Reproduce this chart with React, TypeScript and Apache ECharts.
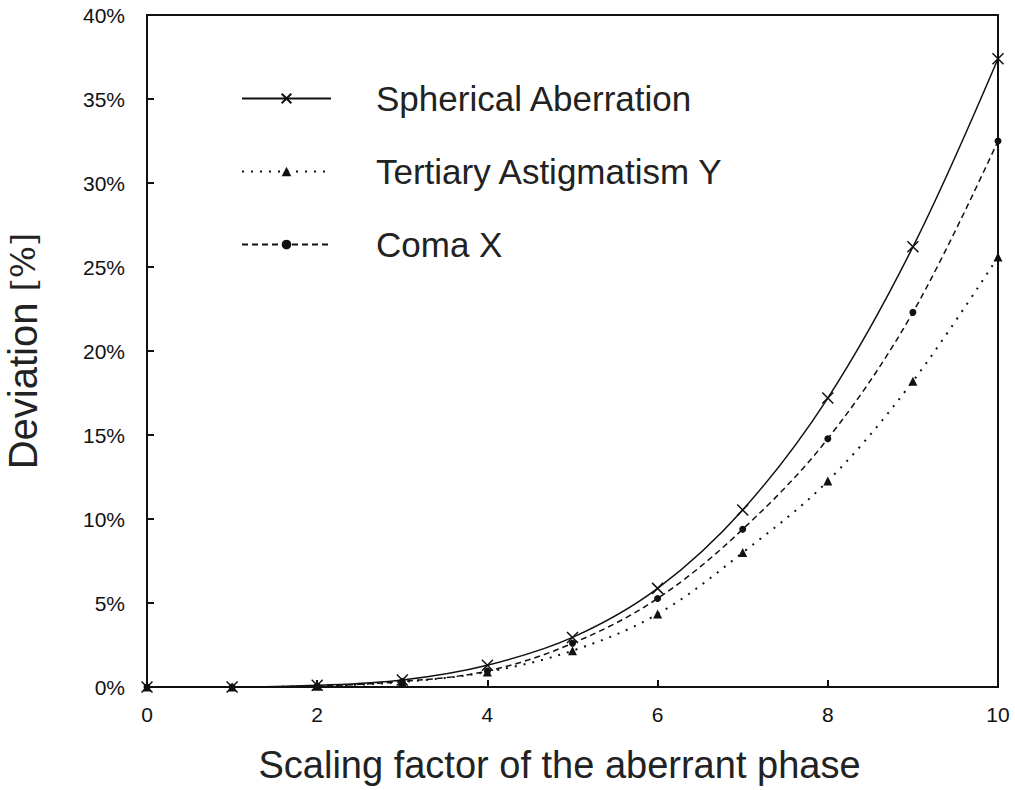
import React, { useEffect, useRef } from "react";
import * as echarts from "echarts";

const xValues = [0, 1, 2, 3, 4, 5, 6, 7, 8, 9, 10];
const sphericalValues = [0, 0, 0.1, 0.42, 1.3, 2.95, 5.87, 10.54, 17.2, 26.2, 37.4];
const tertiaryValues = [0, 0, 0.05, 0.3, 0.9, 2.16, 4.34, 8.0, 12.26, 18.2, 25.6];
const comaValues = [0, 0, 0.06, 0.33, 0.95, 2.6, 5.27, 9.39, 14.78, 22.3, 32.5];
const seriesNames = ["Spherical Aberration", "Tertiary Astigmatism Y", "Coma X"];

const pair = (vals: number[]) => xValues.map((x, i) => [x, vals[i]]);

export default function App() {
  const ref = useRef<HTMLDivElement>(null);
  useEffect(() => {
    if (!ref.current) return;
    const chart = echarts.init(ref.current, null, { renderer: "svg" });
    const font = "Liberation Sans, Arial, sans-serif";
    chart.setOption({
      animation: false,
      backgroundColor: "#fff",
      grid: {
        left: 147,
        right: 17,
        top: 15,
        bottom: 103,
        containLabel: false,
        outerBoundsMode: "none",
        show: true,
        borderColor: "#111",
        borderWidth: 2,
        backgroundColor: "transparent",
      },
      legend: {
        orient: "vertical",
        left: 236,
        top: 76,
        itemWidth: 89,
        itemHeight: 12,
        itemGap: 38,
        data: seriesNames,
        textStyle: {
          fontFamily: font,
          fontSize: 35,
          color: "#222",
          padding: [0, 0, 0, 40],
        },
      },
      xAxis: {
        type: "value",
        min: 0,
        max: 10,
        interval: 2,
        name: "Scaling factor of the aberrant phase",
        nameLocation: "middle",
        nameGap: 59,
        nameTextStyle: { fontFamily: font, fontSize: 38, color: "#222", padding: [0, 26, 0, 0] },
        axisLine: { show: true, lineStyle: { color: "#111", width: 2 } },
        axisTick: { show: true, inside: true, length: 7, lineStyle: { color: "#111", width: 2 } },
        axisLabel: { fontFamily: font, fontSize: 21, color: "#111", margin: 17 },
        splitLine: { show: false },
      },
      yAxis: {
        type: "value",
        min: 0,
        max: 40,
        interval: 5,
        name: "{a|Deviation }{b|[%]}",
        nameLocation: "middle",
        nameGap: 104,
        nameTextStyle: {
          fontFamily: font,
          fontSize: 40,
          color: "#222",
          rich: {
            a: { fontFamily: font, fontSize: 40, color: "#222" },
            b: { fontFamily: "DejaVu Serif, Liberation Serif, serif", fontSize: 34, color: "#222" },
          },
        },
        axisLine: { show: true, lineStyle: { color: "#111", width: 2 } },
        axisTick: { show: true, inside: true, length: 7, lineStyle: { color: "#111", width: 2 } },
        axisLabel: {
          fontFamily: font,
          fontSize: 21,
          color: "#111",
          margin: 22,
          formatter: (v: number) => `${v}%`,
        },
        splitLine: { show: false },
      },
      series: [
        {
          name: seriesNames[0],
          type: "line",
          smooth: 0.35,
          data: pair(sphericalValues),
          symbol: "path://M0,0L10,10M10,0L0,10",
          symbolSize: 11,
          showAllSymbol: true,
          lineStyle: { color: "#111", width: 1.5, type: "solid" },
          itemStyle: { color: "#111", borderColor: "#111", borderWidth: 1.5 },
        },
        {
          name: seriesNames[1],
          type: "line",
          smooth: 0.35,
          data: pair(tertiaryValues),
          symbol: "triangle",
          symbolSize: 9,
          lineStyle: { color: "#111", width: 2, type: [2, 7] },
          itemStyle: { color: "#111", borderWidth: 0 },
        },
        {
          name: seriesNames[2],
          type: "line",
          smooth: 0.35,
          data: pair(comaValues),
          symbol: "circle",
          symbolSize: 7,
          lineStyle: { color: "#111", width: 1.5, type: [6, 4] },
          itemStyle: { color: "#111", borderWidth: 0 },
        },
      ],
    });
    return () => chart.dispose();
  }, []);
  return <div ref={ref} style={{ width: 1015, height: 790, position: "absolute", left: 0, top: 0 }} />;
}
